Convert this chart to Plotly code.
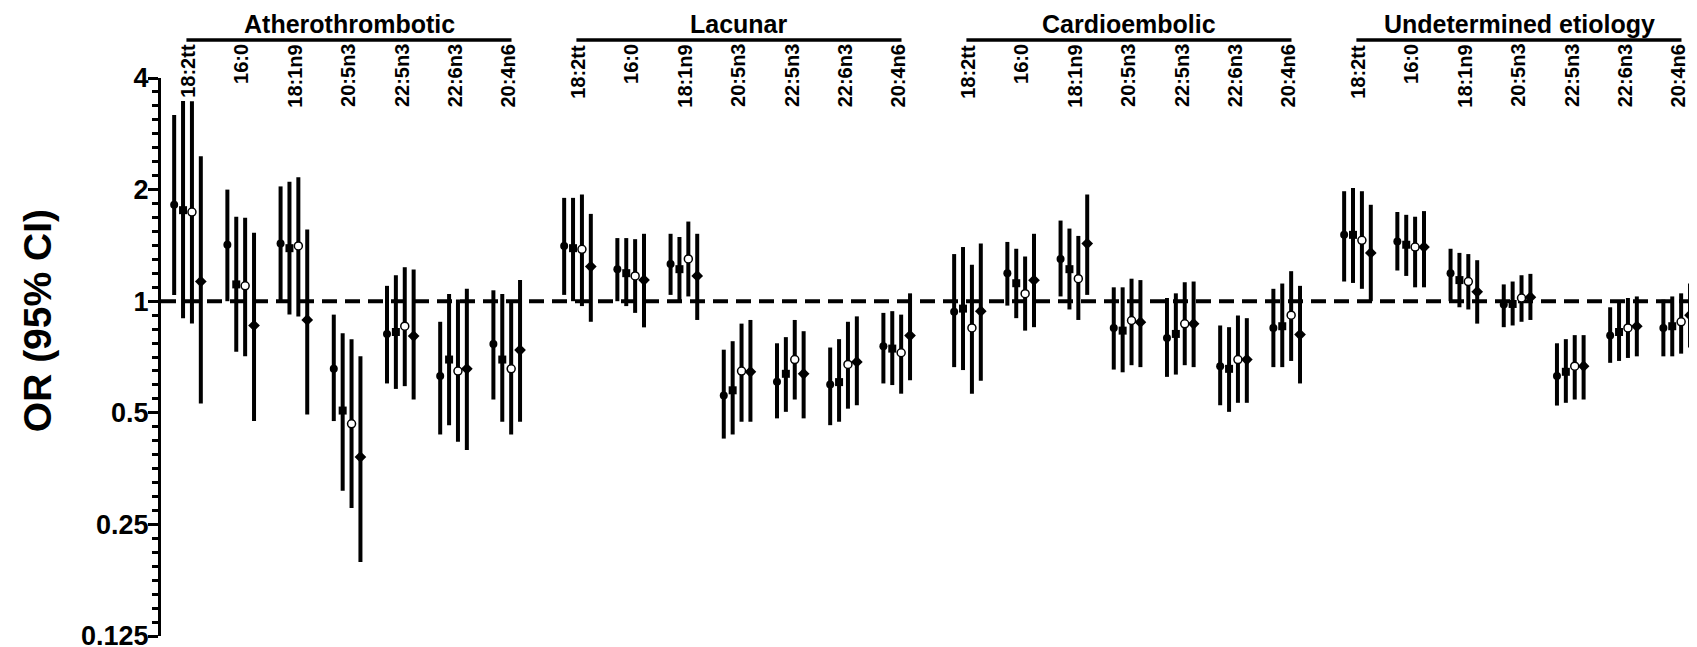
import plotly.graph_objects as go

# ---------------- data ----------------
groups = ["Atherothrombotic", "Lacunar", "Cardioembolic", "Undetermined etiology"]
fatty_acids = ["18:2tt", "16:0", "18:1n9", "20:5n3", "22:5n3", "22:6n3", "20:4n6"]
y_tick_vals = [0.125, 0.25, 0.5, 1, 2, 4]
y_tick_text = ["0.125", "0.25", "0.5", "1", "2", "4"]

# OR and 95% CI, ordered group by group, fatty acid by fatty acid (4 x 7 = 28)
or_1 = [1.82, 1.42, 1.43, 0.657, 0.816, 0.628, 0.767,
        1.41, 1.22, 1.26, 0.557, 0.606, 0.596, 0.756,
        0.936, 1.19, 1.30, 0.847, 0.796, 0.668, 0.847,
        1.51, 1.45, 1.19, 0.98, 0.628, 0.808, 0.847]
lo_1 = [1.04, 1.00, 1.00, 0.475, 0.60, 0.437, 0.543,
        1.04, 1.00, 1.04, 0.426, 0.483, 0.463, 0.60,
        0.664, 0.973, 1.03, 0.654, 0.625, 0.524, 0.664,
        1.13, 1.21, 1.00, 0.851, 0.523, 0.682, 0.71]
hi_1 = [3.18, 2.00, 2.04, 0.92, 1.10, 0.88, 1.07,
        1.90, 1.48, 1.52, 0.74, 0.77, 0.75, 0.93,
        1.34, 1.445, 1.65, 1.09, 1.02, 0.86, 1.08,
        1.98, 1.74, 1.385, 1.11, 0.77, 0.963, 1.01]

or_2 = [1.76, 1.11, 1.39, 0.507, 0.826, 0.696, 0.696,
        1.39, 1.19, 1.22, 0.575, 0.637, 0.605, 0.745,
        0.955, 1.118, 1.22, 0.833, 0.816, 0.657, 0.856,
        1.51, 1.42, 1.14, 0.983, 0.645, 0.826, 0.856]
lo_2 = [0.90, 0.73, 0.92, 0.308, 0.58, 0.463, 0.473,
        1.00, 0.97, 1.00, 0.437, 0.503, 0.473, 0.594,
        0.652, 0.90, 0.95, 0.643, 0.634, 0.503, 0.664,
        1.12, 1.17, 0.963, 0.86, 0.532, 0.69, 0.71]
hi_2 = [3.47, 1.69, 2.10, 0.82, 1.175, 1.046, 1.046,
        1.90, 1.48, 1.49, 0.78, 0.80, 0.79, 0.94,
        1.40, 1.385, 1.57, 1.09, 1.05, 0.851, 1.116,
        2.02, 1.71, 1.35, 1.13, 0.79, 1.00, 1.03]

or_3 = [1.74, 1.10, 1.41, 0.467, 0.856, 0.648, 0.657,
        1.38, 1.17, 1.30, 0.648, 0.696, 0.675, 0.726,
        0.847, 1.048, 1.15, 0.887, 0.869, 0.696, 0.917,
        1.46, 1.40, 1.13, 1.02, 0.668, 0.847, 0.88]
lo_3 = [0.87, 0.71, 0.91, 0.277, 0.59, 0.418, 0.437,
        0.97, 0.93, 1.03, 0.473, 0.543, 0.513, 0.563,
        0.563, 0.833, 0.89, 0.672, 0.672, 0.532, 0.69,
        1.08, 1.09, 0.95, 0.88, 0.543, 0.703, 0.722]
hi_3 = [3.46, 1.68, 2.16, 0.79, 1.235, 1.01, 1.00,
        1.94, 1.47, 1.64, 0.87, 0.89, 0.88, 0.92,
        1.255, 1.32, 1.50, 1.15, 1.125, 0.915, 1.205,
        1.98, 1.69, 1.34, 1.175, 0.81, 1.02, 1.05]

or_4 = [1.13, 0.86, 0.89, 0.38, 0.805, 0.657, 0.738,
        1.24, 1.14, 1.17, 0.645, 0.637, 0.686, 0.808,
        0.94, 1.139, 1.43, 0.878, 0.869, 0.696, 0.813,
        1.35, 1.40, 1.06, 1.025, 0.668, 0.856, 0.917]
lo_4 = [0.53, 0.475, 0.495, 0.198, 0.543, 0.397, 0.473,
        0.88, 0.85, 0.89, 0.473, 0.483, 0.524, 0.612,
        0.61, 0.851, 1.04, 0.664, 0.664, 0.532, 0.60,
        1.00, 1.09, 0.87, 0.89, 0.543, 0.71, 0.75]
hi_4 = [2.46, 1.53, 1.56, 0.71, 1.217, 1.08, 1.14,
        1.72, 1.52, 1.52, 0.89, 0.83, 0.91, 1.05,
        1.43, 1.52, 1.94, 1.14, 1.13, 0.90, 1.10,
        1.82, 1.75, 1.29, 1.185, 0.81, 1.03, 1.116]

series = [
    ("Model 1", or_1, lo_1, hi_1, dict(symbol="circle", size=8, color="black")),
    ("Model 2", or_2, lo_2, hi_2, dict(symbol="square", size=8, color="black")),
    ("Model 3", or_3, lo_3, hi_3, dict(symbol="circle", size=8, color="white",
                                        line=dict(color="black", width=1.5))),
    ("Model 4", or_4, lo_4, hi_4, dict(symbol="diamond", size=9, color="black")),
]

# ---------------- layout constants ----------------
GROUP_STRIDE = 7.33
SUB_OFFSET = 0.167
FONT = "Liberation Sans, Arial, sans-serif"

cat_x = [g * GROUP_STRIDE + i for g in range(len(groups)) for i in range(len(fatty_acids))]

fig = go.Figure()
for k, (name, o, lo, hi, mk) in enumerate(series):
    xs = [c + (k - 1.5) * SUB_OFFSET for c in cat_x]
    fig.add_trace(go.Scatter(
        x=xs, y=o, mode="markers", name=name, showlegend=False,
        marker=mk, cliponaxis=False,
        error_y=dict(type="data", symmetric=False,
                     array=[h - v for h, v in zip(hi, o)],
                     arrayminus=[v - l for v, l in zip(o, lo)],
                     thickness=4, width=0, color="black"),
    ))

shapes = [dict(type="line", xref="paper", yref="y", x0=0, x1=1, y0=1, y1=1,
               line=dict(color="black", width=4, dash="15px,8px"), layer="below")]
annotations = []
for g, gname in enumerate(groups):
    first = g * GROUP_STRIDE
    last = g * GROUP_STRIDE + len(fatty_acids) - 1
    shapes.append(dict(type="line", xref="x", yref="paper",
                       x0=first - 0.02, x1=last + 0.09, y0=1.068, y1=1.068,
                       line=dict(color="black", width=3.5)))
    annotations.append(dict(text=gname, xref="x", yref="paper",
                            x=(first + last) / 2 + 0.04, y=1.097,
                            xanchor="center", yanchor="middle", showarrow=False,
                            font=dict(family=FONT, size=25, color="black", weight="bold")))
    for i, fa in enumerate(fatty_acids):
        annotations.append(dict(text=fa, xref="x", yref="paper",
                                x=first + i, y=1.064, xshift=1,
                                xanchor="center", yanchor="top", textangle=-90,
                                showarrow=False,
                                font=dict(family=FONT, size=20, color="black", weight="bold")))

annotations.append(dict(text="OR (95% CI)", xref="paper", yref="paper",
                        x=-0.08, y=0.565, xanchor="center", yanchor="middle",
                        textangle=-90, showarrow=False,
                        font=dict(family=FONT, size=39, color="black", weight="bold")))

minor_vals = [2 ** (k / 8) for k in range(-24, 17) if k % 8 != 0]

fig.update_layout(
    width=1697, height=647,
    margin=dict(l=153, r=0, t=70, b=19),
    paper_bgcolor="white", plot_bgcolor="white",
    shapes=shapes, annotations=annotations,
    xaxis=dict(visible=False, range=[-0.498, 28.522]),
    yaxis=dict(type="log", range=[-0.90309, 0.60206],
               tickmode="array", tickvals=y_tick_vals, ticktext=y_tick_text,
               ticks="outside", ticklen=10, tickwidth=3, tickcolor="black",
               ticklabelstandoff=-6,
               showline=True, linewidth=3, linecolor="black",
               showgrid=False, zeroline=False,
               tickfont=dict(family=FONT, size=27, color="black", weight="bold"),
               minor=dict(tickmode="array", tickvals=minor_vals, ticks="outside",
                          ticklen=6, tickwidth=3, tickcolor="black", showgrid=False)),
)

fig.write_html("out.html")
